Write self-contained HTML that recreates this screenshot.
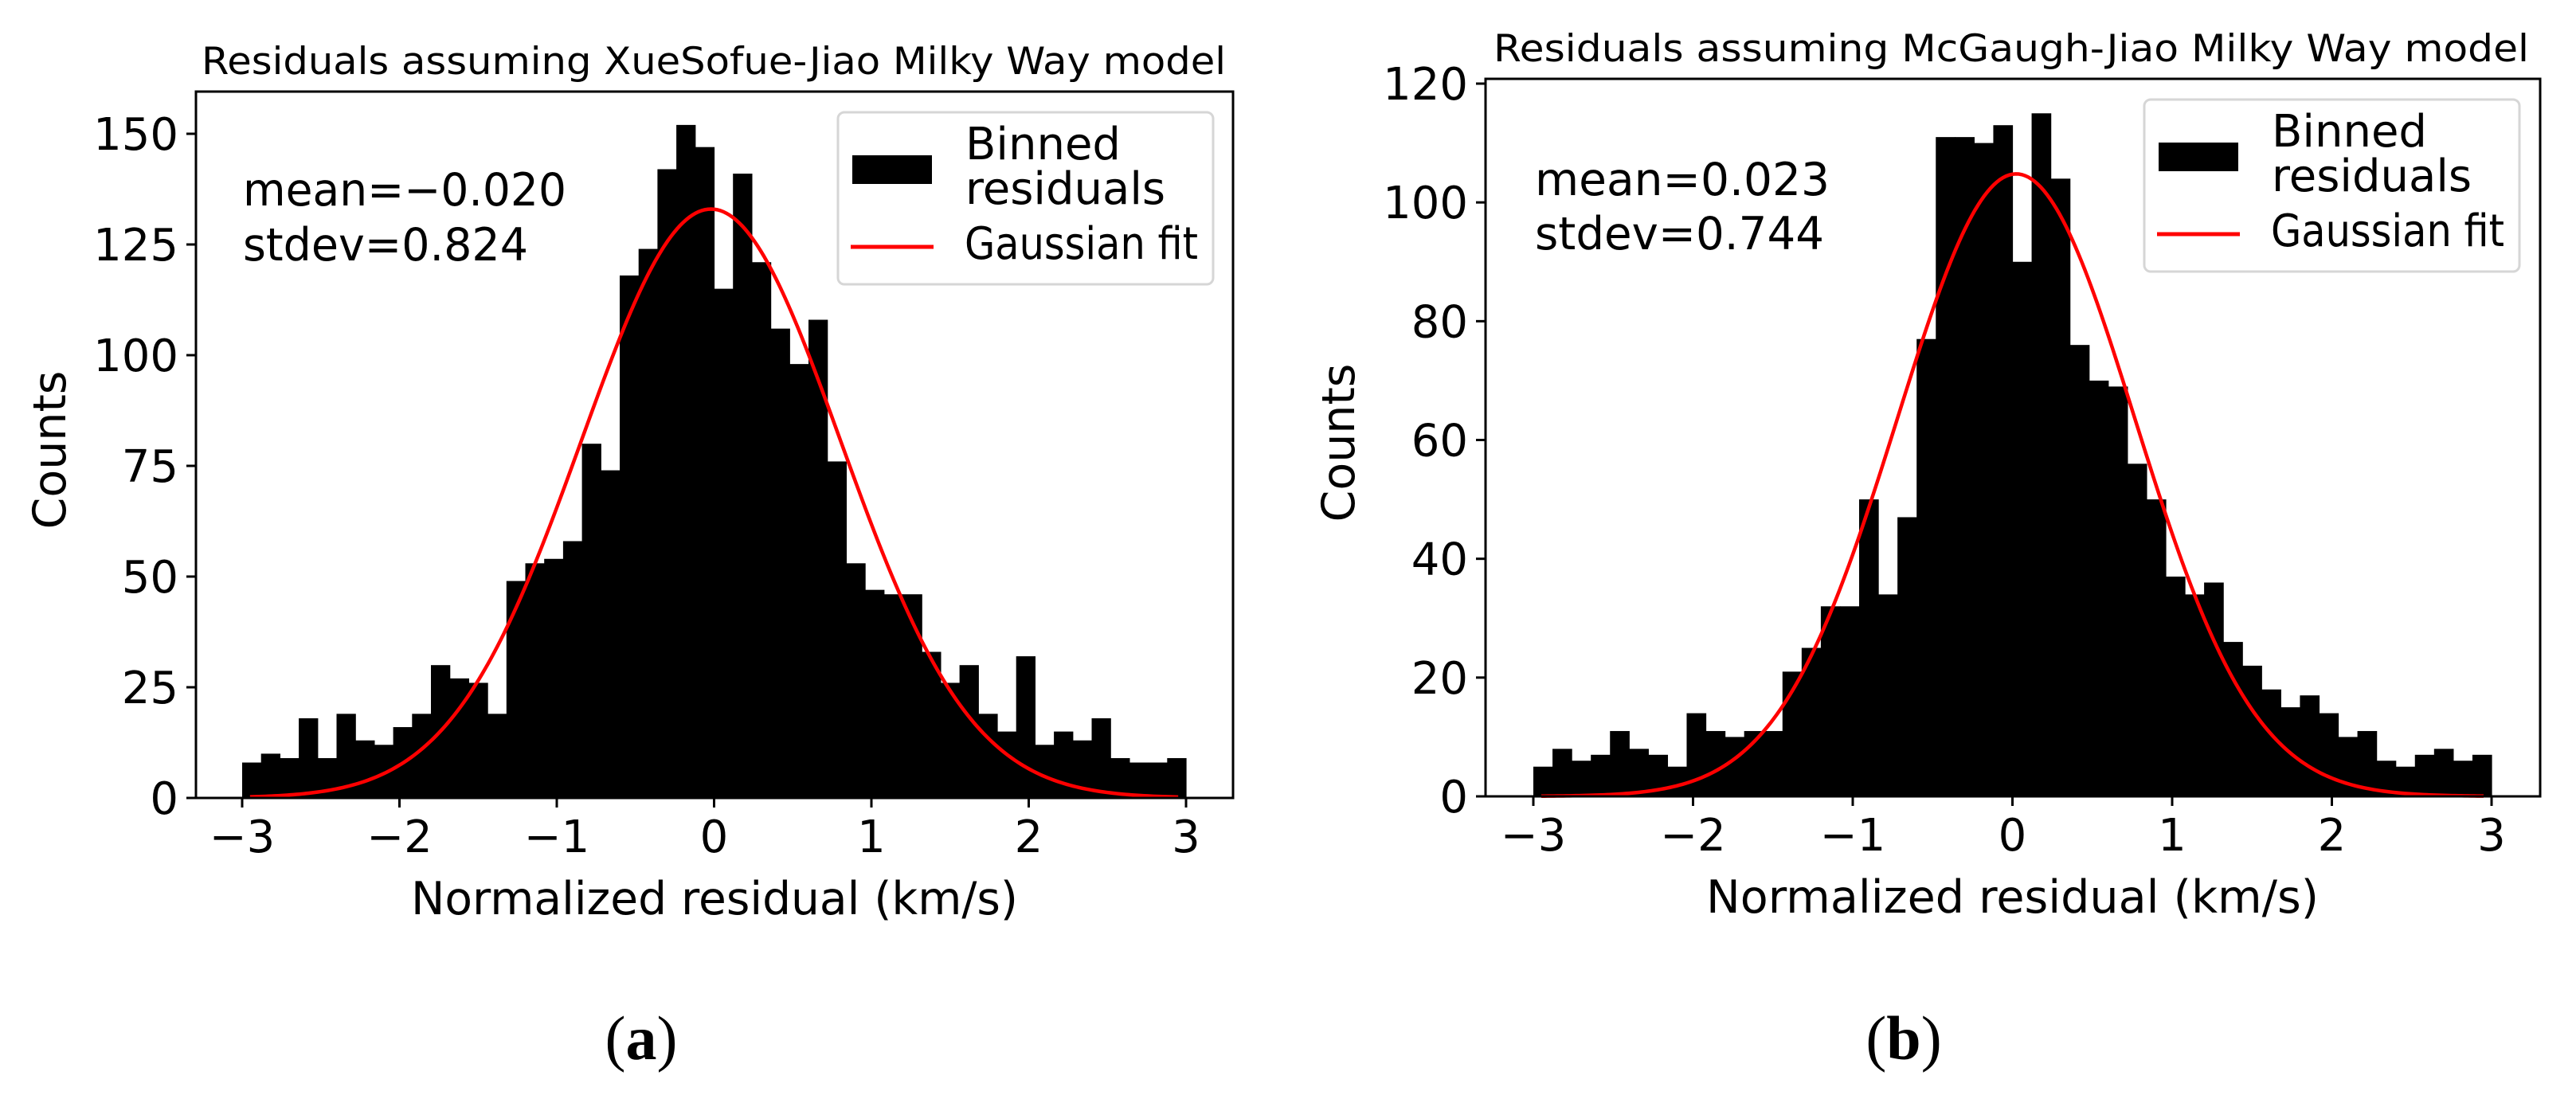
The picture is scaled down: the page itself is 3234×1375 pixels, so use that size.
<!DOCTYPE html>
<html><head><meta charset="utf-8"><style>
html,body{margin:0;padding:0;background:#fff;}
svg{display:block;}
text{font-family:"DejaVu Sans","Liberation Sans",sans-serif;fill:#000;}
</style></head><body>
<svg id="fig" width="3234" height="1375" viewBox="0 0 3234 1375" xmlns="http://www.w3.org/2000/svg"></svg>
<script>
// Panel (a) data
const binEdgesMin = -3, binEdgesMax = 3;
const countsA = [8,10,9,18,9,19,13,12,16,19,30,27,26,19,49,53,54,58,80,74,118,124,142,152,147,115,141,121,106,98,108,76,53,47,46,46,33,26,30,19,15,32,12,15,13,18,9,8,8,9];
const fitA = {mean:-0.020, sd:0.824, peak:133};
const yTicksA = [0,25,50,75,100,125,150];
// Panel (b) data
const countsB = [5,8,6,7,11,8,7,5,14,11,10,11,11,21,25,32,32,50,34,47,77,111,111,110,113,90,115,104,76,70,69,56,50,37,34,36,26,22,18,15,17,14,10,11,6,5,7,8,6,7];
const fitB = {mean:0.023, sd:0.744, peak:104.8};
const yTicksB = [0,20,40,60,80,100,120];
const xTicks = [-3,-2,-1,0,1,2,3];

const NS = "http://www.w3.org/2000/svg";
const svg = document.getElementById('fig');
function el(tag, attrs, parent, txt){
  const e = document.createElementNS(NS, tag);
  for (const k in attrs) e.setAttribute(k, attrs[k]);
  if (txt !== undefined) e.textContent = txt;
  (parent||svg).appendChild(e);
  return e;
}
function fmt(v){ return v<0 ? '\u2212'+Math.abs(v) : String(v); }

function panel(cfg){
  const g = el('g', {});
  
  
  const {L,R,T,B,x0,x3,y0,yMaxVal,yMaxPix} = cfg;
  const sx = v => x0 + (v - binEdgesMin) * (x3 - x0) / (binEdgesMax - binEdgesMin);
  const sy = v => y0 - v * (y0 - yMaxPix) / yMaxVal;
  const n = cfg.counts.length, w = (binEdgesMax - binEdgesMin) / n;
  cfg.counts.forEach((c,i)=>{
    const xa = sx(binEdgesMin + i*w), xb = sx(binEdgesMin + (i+1)*w);
    const r = el('rect', {x:xa, y:sy(c), width:xb-xa+0.6, height:y0-sy(c), fill:'#000'}, g);
    
    
  });
  let d = '';
  for (let k=0;k<=300;k++){
    const v = -2.95 + 5.9*k/300;
    const y = cfg.fit.peak * Math.exp(-0.5*Math.pow((v-cfg.fit.mean)/cfg.fit.sd,2));
    d += (k?'L':'M') + sx(v).toFixed(2) + ' ' + sy(y).toFixed(2);
  }
  const p = el('path', {d:d, fill:'none', stroke:'#ff0000', 'stroke-width':4.5}, g);
  
  
  const fr = el('rect', {x:L, y:T, width:R-L, height:B-T, fill:'none', stroke:'#000', 'stroke-width':3}, g);
  
  
  xTicks.forEach(t=>{
    el('line', {x1:sx(t), x2:sx(t), y1:B, y2:B+12, stroke:'#000','stroke-width':3}, g);
    const tx = el('text', {x:sx(t), y:B+68, 'font-size':56, 'text-anchor':'middle'}, g, fmt(t));
    
    
  });
  cfg.yTicks.forEach(t=>{
    el('line', {x1:L-12, x2:L, y1:sy(t), y2:sy(t), stroke:'#000','stroke-width':3}, g);
    const tx = el('text', {x:L-22, y:sy(t)+20, 'font-size':56, 'text-anchor':'end'}, g, String(t));
    
    
  });
  const ti = el('text', {x:cfg.titleX, y:cfg.titleY, 'font-size':47, textLength:cfg.titleW, lengthAdjust:'spacingAndGlyphs'}, g, cfg.title);
  
  
  const xl = el('text', {x:cfg.xlX, y:cfg.xlY, 'font-size':57, textLength:cfg.xlW, lengthAdjust:'spacingAndGlyphs'}, g, 'Normalized residual (km/s)');
  
  
  const yl = el('text', {x:0, y:0, 'font-size':57, 'text-anchor':'middle', transform:`translate(${cfg.ylX},${cfg.ylY}) rotate(-90)`}, g, 'Counts');
  
  
  const s1 = el('text', {x:cfg.stX, y:cfg.stY1, 'font-size':57, textLength:cfg.stW1, lengthAdjust:'spacingAndGlyphs'}, g, cfg.stat1);
  
  
  const s2 = el('text', {x:cfg.stX, y:cfg.stY2, 'font-size':57, textLength:cfg.stW2, lengthAdjust:'spacingAndGlyphs'}, g, cfg.stat2);
  
  
  const lg = el('g', {transform:`translate(${cfg.lgX},${cfg.lgY})`}, g);
  
  
  el('rect', {x:0, y:0, width:471, height:216, rx:8, fill:'#fff', stroke:'#d6d6d6', 'stroke-width':3}, lg);
  const pt = el('rect', {x:18, y:54, width:100, height:36, fill:'#000'}, lg);
  
  
  el('text', {x:160, y:59, 'font-size':56}, lg, 'Binned');
  el('text', {x:160, y:115, 'font-size':56}, lg, 'residuals');
  const ln = el('line', {x1:16, x2:120, y1:169, y2:169, stroke:'#ff0000', 'stroke-width':5}, lg);
  
  
  el('text', {x:159, y:184, 'font-size':56, textLength:293, lengthAdjust:'spacingAndGlyphs'}, lg, 'Gaussian fit');
  const cap = el('text', {x:cfg.capX, y:1330, 'font-size':78, 'text-anchor':'middle', style:'font-family:"Liberation Serif",serif'}, svg);
  cap.textContent = '(';
  el('tspan', {'font-weight':'bold'}, cap, cfg.cap);
  el('tspan', {}, cap, ')');
  
  
}

panel({name:'panel-a', L:246, R:1548, T:115, B:1002, x0:304, x3:1489, y0:1002, yMaxVal:150, yMaxPix:168,
  counts:countsA, fit:fitA, yTicks:yTicksA,
  title:'Residuals assuming XueSofue-Jiao Milky Way model', titleX:253, titleY:93, titleW:1286,
  xlX:516, xlY:1148, xlW:762, ylX:82, ylY:565,
  stX:305, stY1:258, stY2:327, stW1:406, stW2:358, stat1:'mean=\u22120.020', stat2:'stdev=0.824',
  lgX:1052, lgY:141, capX:805, cap:'a'});

panel({name:'panel-b', L:1865, R:3189, T:99, B:1000, x0:1925, x3:3128, y0:1000, yMaxVal:120, yMaxPix:105,
  counts:countsB, fit:fitB, yTicks:yTicksB,
  title:'Residuals assuming McGaugh-Jiao Milky Way model', titleX:1875, titleY:77, titleW:1300,
  xlX:2142, xlY:1146, xlW:769, ylX:1700, ylY:556,
  stX:1927, stY1:245, stY2:313, stW1:370, stW2:363, stat1:'mean=0.023', stat2:'stdev=0.744',
  lgX:2692, lgY:125, capX:2390, cap:'b'});
</script>
</body></html>
